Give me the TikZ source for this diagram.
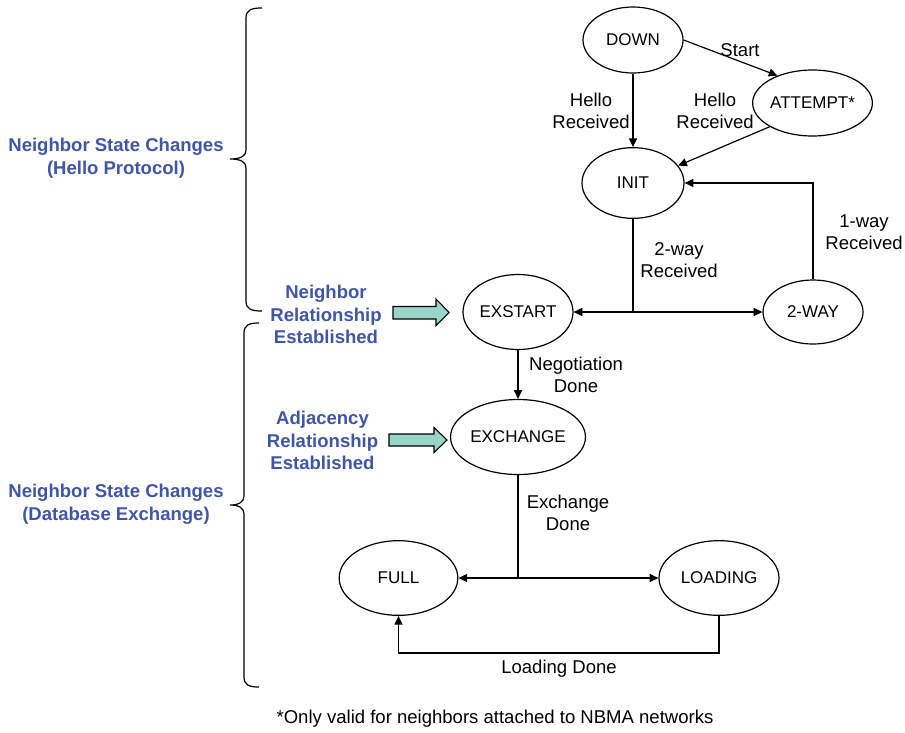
\documentclass[tikz,border=0pt]{standalone}
\usepackage{fontspec}
\setmainfont{Liberation Sans}
\usetikzlibrary{shapes.geometric,arrows.meta}

\definecolor{titleblue}{RGB}{63,86,166}
\definecolor{blockteal}{RGB}{153,213,201}

\tikzset{
  state/.style={draw, ellipse, line width=0.9pt, inner sep=0pt,
    font=\fontsize{12.75}{16.5}\selectfont},
  trans/.style={line width=0.9pt, -{Triangle[length=6.5pt,width=6pt]}},
  plainline/.style={line width=0.9pt},
  lbl/.style={align=center, inner sep=0pt,
    font=\fontsize{13.9}{16.5}\selectfont},
  phase/.style={align=center, inner sep=0pt, text=titleblue,
    font=\fontsize{13.9}{16.9}\selectfont\bfseries},
  brace/.style={line width=0.9pt},
  blockarrow/.style={draw, line width=0.8pt, fill=blockteal, line join=miter}
}

\begin{document}
\begin{tikzpicture}[x=0.75pt, y=-0.75pt]
\useasboundingbox (0,0) rectangle (905,732);

% states
\node[state, minimum width=75pt, minimum height=49.5pt] (down) at (633,40) {DOWN};
\node[state, minimum width=75.75pt, minimum height=49.5pt] (attempt) at (812.5,103) {ATTEMPT*};
\node[state, minimum width=76.5pt, minimum height=53pt] (init) at (633,183) {INIT};
\node[state, minimum width=82.5pt, minimum height=56.25pt] (exstart) at (518,312) {EXSTART};
\node[state, minimum width=75pt, minimum height=48pt] (twoway) at (813,312) {2-WAY};
\node[state, minimum width=90pt, minimum height=56.25pt] (exchange) at (518,437) {EXCHANGE};
\node[state, minimum width=89pt, minimum height=56pt] (full) at (398.5,578) {FULL};
\node[state, minimum width=90pt, minimum height=56pt] (loading) at (719,578) {LOADING};

% transitions
\draw[trans] (down.east) -- (attempt.142);
\draw[trans] (down.south) -- (init.north);
\draw[trans] (attempt.209) -- (init.21);
\draw[trans] (twoway.north) |- (init.east);

\coordinate (split1) at (init.south |- exstart);
\draw[plainline] (init.south) -- (split1);
\draw[trans] (split1) -- (exstart.east);
\draw[trans] (split1) -- (twoway.west);

\draw[trans] (exstart.south) -- (exchange.north);

\coordinate (split2) at (exchange.south |- full);
\draw[plainline] (exchange.south) -- (split2);
\draw[trans] (split2) -- (full.east);
\draw[trans] (split2) -- (loading.west);

\coordinate (lowrow) at (0,653);
\draw[trans] (loading.south) -- (loading.south |- lowrow) -| (full.south);

% transition labels
\node[lbl] (l1) at (740,50) {Start};
\node[lbl] (l2) at (591,111) {Hello\\Received};
\node[lbl] (l3) at (715,111) {Hello\\Received};
\node[lbl] (l4) at (864,232) {1-way\\Received};
\node[lbl] (l5) at (679,260) {2-way\\Received};
\node[lbl] (l6) at (576,375) {Negotiation\\Done};
\node[lbl] (l7) at (568,513) {Exchange\\Done};
\node[lbl] (l8) at (559,669) {Loading Done};
\node[lbl] (note) at (495,719) {*Only valid for neighbors attached to NBMA networks};

% phase braces
\draw[brace] (262,8) .. controls (251,8) and (246,10) .. (246,18) -- (246,150)
  .. controls (246,156) and (241,159) .. (230,159)
  .. controls (241,159) and (246,162) .. (246,168) -- (246,301)
  .. controls (246,309) and (251,311) .. (262,311);
\draw[brace] (259,323) .. controls (249,323) and (244,325) .. (244,333) -- (244,496)
  .. controls (244,502) and (239,505) .. (230,505)
  .. controls (239,505) and (244,508) .. (244,514) -- (244,677)
  .. controls (244,685) and (249,687) .. (259,687);

% phase labels
\node[phase] (hello) at (116,158) {Neighbor State Changes\\(Hello Protocol)};
\node[phase] (dbex) at (116,504.5) {Neighbor State Changes\\(Database Exchange)};
\node[phase] (nbr) at (326,314.5) {Neighbor\\Relationship\\Established};
\node[phase] (adj) at (322.5,440.5) {Adjacency\\Relationship\\Established};

% block arrows pointing at the states they mark
\draw[blockarrow] (393,306.5) -- (436,306.5) -- (436,299) -- (449,312.5)
  -- (436,325.5) -- (436,319) -- (393,319) -- cycle;
\draw[blockarrow] (389,434) -- (434,434) -- (434,427.5) -- (447,440)
  -- (434,452.5) -- (434,446) -- (389,446) -- cycle;
\end{tikzpicture}
\end{document}
